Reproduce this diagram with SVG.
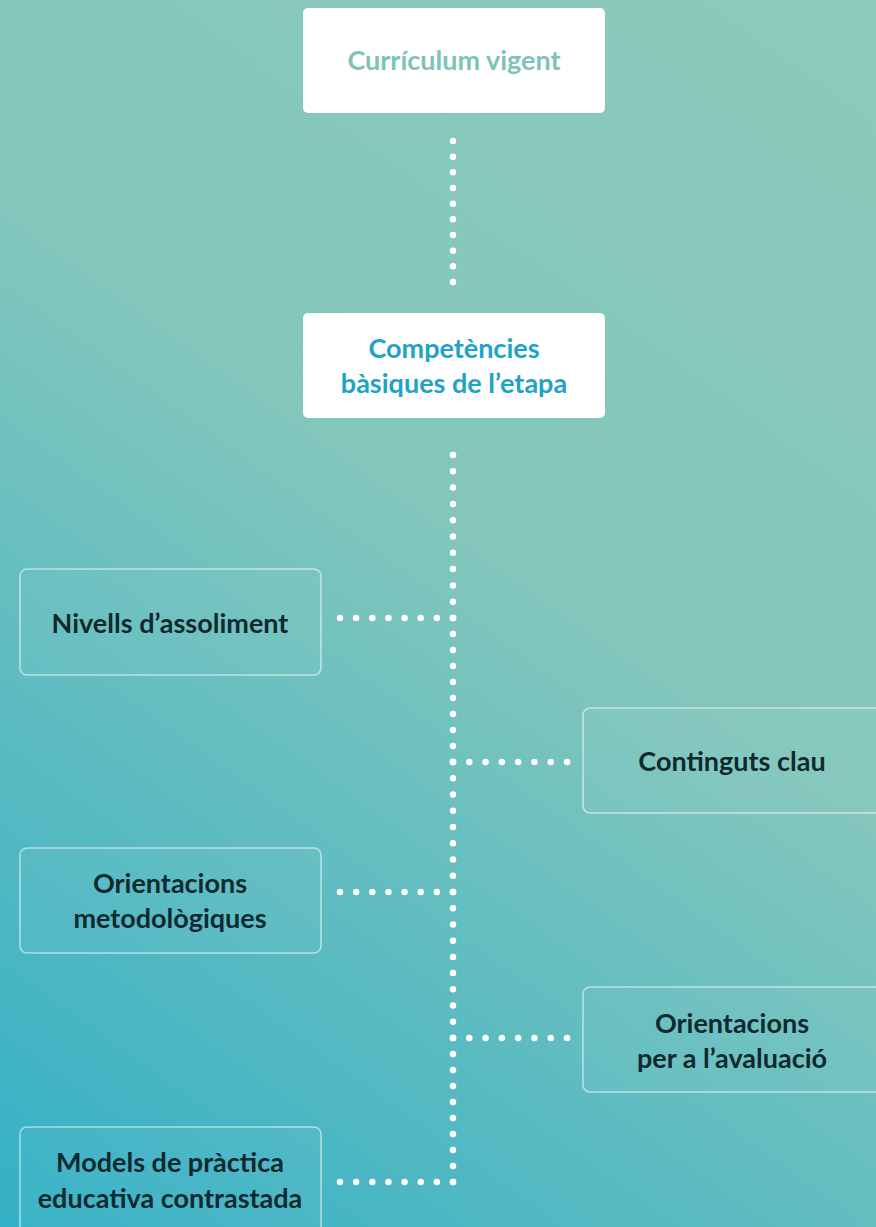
<svg xmlns="http://www.w3.org/2000/svg" width="876" height="1227" viewBox="0 0 876 1227">
<defs>
<linearGradient id="bg" x1="876" y1="0" x2="0" y2="1227" gradientUnits="userSpaceOnUse">
<stop offset="0" stop-color="#8dcbbb"/>
<stop offset="0.45" stop-color="#82c6bc"/>
<stop offset="1" stop-color="#33b0c6"/>
</linearGradient>
<style>
.top{fill:#ffffff;}
.box{fill:#ffffff;fill-opacity:0.04;stroke:#ffffff;stroke-opacity:0.55;stroke-width:1.6;}
.t{font-family:Lato,"Open Sans","Liberation Sans",sans-serif;font-weight:700;font-size:27px;text-anchor:middle;fill:#0e2a2f;}
.cv{fill:#7fc3b6;}
.cb{fill:#22a2c9;}
.dot{fill:none;stroke:#ffffff;stroke-width:6.5;stroke-linecap:round;}
</style>
</defs>
<rect x="0" y="0" width="876" height="1227" fill="url(#bg)"/>
<g id="connectors">
<line class="dot" x1="453" y1="141" x2="453" y2="283" stroke-dasharray="0 15.67"/>
<line class="dot" x1="453" y1="455" x2="453" y2="619" stroke-dasharray="0 16.3"/>
<line class="dot" x1="453" y1="618" x2="453" y2="763" stroke-dasharray="0 16"/>
<line class="dot" x1="453" y1="762" x2="453" y2="893" stroke-dasharray="0 16.25"/>
<line class="dot" x1="453" y1="892" x2="453" y2="1039" stroke-dasharray="0 16.22"/>
<line class="dot" x1="453" y1="1038" x2="453" y2="1183" stroke-dasharray="0 16"/>
<line class="dot" x1="340" y1="618" x2="454" y2="618" stroke-dasharray="0 16.14"/>
<line class="dot" x1="453" y1="762" x2="568" y2="762" stroke-dasharray="0 16.29"/>
<line class="dot" x1="340" y1="892" x2="454" y2="892" stroke-dasharray="0 16.14"/>
<line class="dot" x1="453" y1="1038" x2="568" y2="1038" stroke-dasharray="0 16.29"/>
<line class="dot" x1="340" y1="1182" x2="454" y2="1182" stroke-dasharray="0 16.14"/>
</g>
<g id="node-curriculum">
<rect class="top" x="303" y="8" width="302" height="105" rx="5"/>
<text class="t cv" x="454" y="70">Currículum vigent</text>
</g>
<g id="node-competencies">
<rect class="top" x="303" y="313" width="302" height="105" rx="5"/>
<text class="t cb" x="454" y="358">Competències</text>
<text class="t cb" x="454" y="393">bàsiques de l’etapa</text>
</g>
<g id="node-nivells">
<rect class="box" x="20" y="569" width="301" height="106" rx="7"/>
<text class="t" x="170" y="633">Nivells d’assoliment</text>
</g>
<g id="node-continguts">
<rect class="box" x="583" y="708" width="305" height="105" rx="7"/>
<text class="t" x="732" y="771">Continguts clau</text>
</g>
<g id="node-metodologiques">
<rect class="box" x="20" y="848" width="301" height="105" rx="7"/>
<text class="t" x="170" y="893">Orientacions</text>
<text class="t" x="170" y="928">metodològiques</text>
</g>
<g id="node-avaluacio">
<rect class="box" x="583" y="987" width="305" height="105" rx="7"/>
<text class="t" x="732" y="1033">Orientacions</text>
<text class="t" x="732" y="1068">per a l’avaluació</text>
</g>
<g id="node-models">
<rect class="box" x="20" y="1127" width="301" height="120" rx="7"/>
<text class="t" x="170" y="1172">Models de pràctica</text>
<text class="t" x="170" y="1208">educativa contrastada</text>
</g>
</svg>
